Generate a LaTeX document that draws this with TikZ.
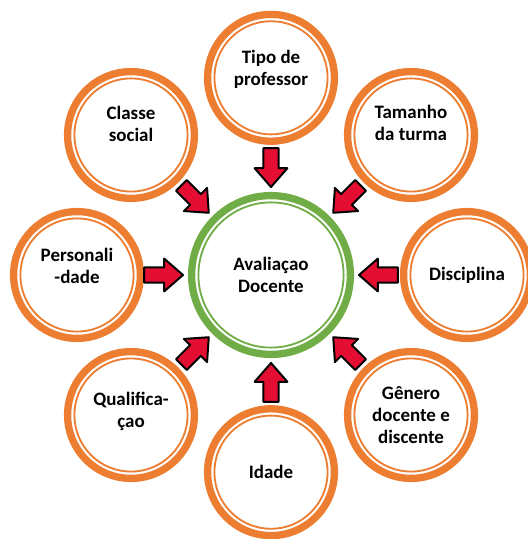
\documentclass[tikz,border=0pt]{standalone}
\usepackage{fontspec}
\setmainfont{Carlito}
\usepackage{tikz}
\usetikzlibrary{calc}
\definecolor{laranja}{RGB}{237,125,49}
\definecolor{verde}{RGB}{112,173,71}
\definecolor{vermelho}{RGB}{228,14,50}
\tikzset{
  fator/.style={circle, draw=laranja, line width=5.2pt, minimum size=3.17cm,
    font=\fontsize{13.5}{15.5}\selectfont\bfseries, align=center,
    path picture={\draw[laranja, line width=1.3pt] (path picture bounding box.center) circle (1.415cm);}},
  centro/.style={circle, draw=verde, line width=5.2pt, minimum size=3.97cm,
    font=\fontsize{13.5}{16}\selectfont\bfseries, align=center,
    path picture={\draw[verde, line width=1.3pt] (path picture bounding box.center) circle (1.815cm);}},
  seta/.style={fill=vermelho, draw=black, line width=1.4pt, line join=round}
}
\begin{document}
\begin{tikzpicture}
    \useasboundingbox (-6.775,-6.6) rectangle (6.425,6.875); % frame
    \node[centro] (ava) at (0,0) {Avaliaçao\\Docente}; % center
    \node[fator, text depth=0.5cm] (tipo) at (90:4.93) {Tipo de\\professor};
    \node[fator, text depth=0.6cm] (tam) at (45:4.95) {Tamanho\\da turma};
    \node[fator] (disc) at (0:4.9) {Disciplina};
    \node[fator] (gen) at (-45:4.95) {Gênero\\docente e\\discente};
    \node[fator] (idade) at (-90:4.93) {Idade};
    \node[fator, text depth=0.25cm] (qual) at (-135:4.95) {Qualifica-\\çao};
    \node[fator, text depth=0.45cm] (pers) at (180:4.85) {Personali\\-dade};
    \node[fator, text depth=0.55cm] (classe) at (135:4.95) {Classe\\social};
    % block arrows
    \foreach \n in {tipo,tam,disc,gen,idade,qual,pers,classe}{
      \path ($(ava)!2.2cm!(\n)$) coordinate (t)
            ($(ava)!2.67cm!(\n)$) coordinate (h)
            ($(ava)!3.17cm!(\n)$) coordinate (e);
      \draw[seta] (t) -- ($(h)!0.41cm!90:(ava)$) -- ($(h)!0.19cm!90:(ava)$)
        -- ($(e)!0.19cm!90:(ava)$) -- ($(e)!0.19cm!-90:(ava)$)
        -- ($(h)!0.19cm!-90:(ava)$) -- ($(h)!0.41cm!-90:(ava)$) -- cycle;
    }
\end{tikzpicture}
\end{document}
